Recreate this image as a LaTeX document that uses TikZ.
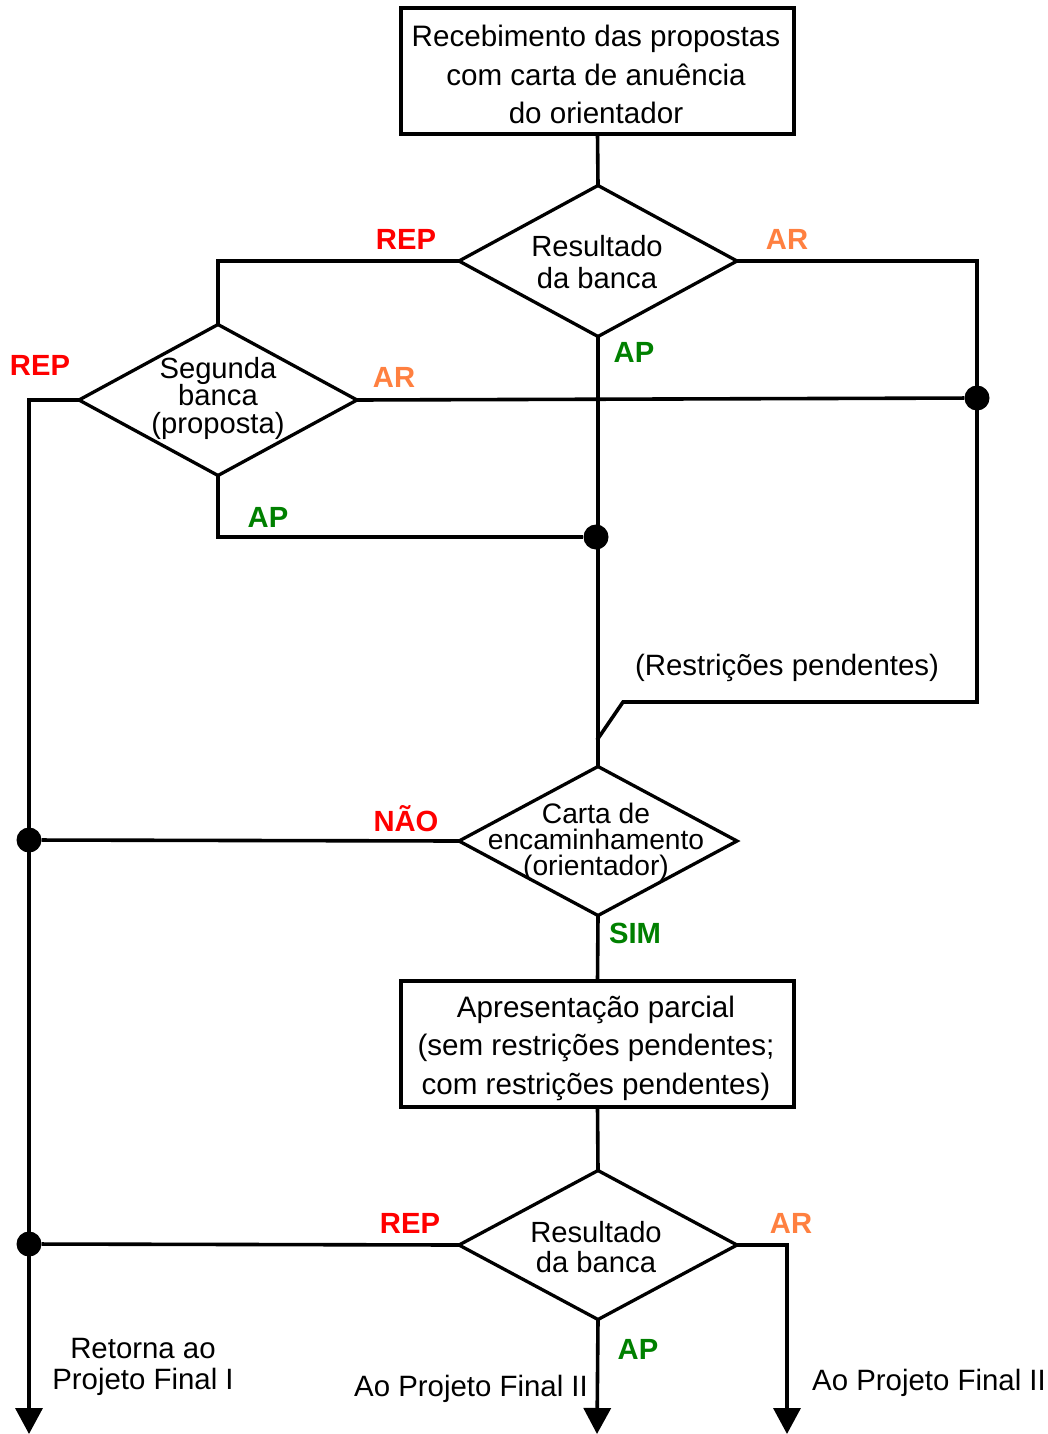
\documentclass[tikz,border=0pt]{standalone}
\usepackage{fontspec}
\setmainfont{Liberation Sans}
\usetikzlibrary{arrows.meta, positioning, shapes.geometric}
\definecolor{flRep}{HTML}{FF0000}
\definecolor{flAr}{HTML}{FF8040}
\definecolor{flAp}{HTML}{008000}

\begin{document}
\begin{tikzpicture}[
        x=1pt, y=-1pt,
        >={Triangle[length=26pt, width=27pt]},
        % boxes and decision diamonds share the same outline weight
        box/.style  ={draw, line width=3.3pt, outer sep=0pt, minimum width=393pt,
                minimum height=126pt, align=center, inner sep=0pt,
                font=\fontsize{29.6}{38.5}\selectfont},
        dec/.style  ={draw, diamond, line width=3.3pt, outer sep=0pt, inner sep=0pt,
                minimum width=278pt, minimum height=151pt},
        dtxt/.style ={align=center, inner sep=0pt, font=\fontsize{29.2}{30}\selectfont},
        note/.style ={align=center, inner sep=0pt, font=\fontsize{29.4}{31}\selectfont},
        lab/.style  ={inner sep=0pt, font=\fontsize{29.2}{30}\selectfont\bfseries},
        rep/.style  ={lab, text=flRep},
        ar/.style   ={lab, text=flAr},
        ap/.style   ={lab, text=flAp},
        dot/.style  ={circle, fill, inner sep=0pt, minimum size=25pt},
        line/.style ={line width=3.6pt}
    ]
    \useasboundingbox (0,0) rectangle (1047,1434);

    % boxes and decisions
    \node[box] (recv)  at (597.5,71)   {};
    \node[box, draw=none] (recvt) at (596,74.5) {Recebimento das propostas\\com carta de anuência\\do orientador};
    \node[dec] (res1)  at (598,261)    {};
    \node[dtxt, font=\fontsize{29.2}{32}\selectfont] (res1t) at (597,262) {Resultado\\da banca};
    \node[dec] (seg)   at (218,400)    {};
    \node[dtxt, font=\fontsize{29.2}{27.5}\selectfont] (segt) at (218,398) {Segunda\\banca\\(proposta)};
    \node[dec, minimum height=149pt] (carta) at (598,841) {};
    \node[dtxt, font=\fontsize{28.2}{26}\selectfont] (cartat) at (596,842) {Carta de\\encaminhamento\\(orientador)};
    \node[box] (apres) at (597.5,1044) {};
    \node[box, draw=none] (aprest) at (596,1048) {Apresentação parcial\\(sem restrições pendentes;\\com restrições pendentes)};
    \node[dec, minimum height=149pt] (res2) at (598,1245) {};
    \node[dtxt] (res2t) at (596,1247) {Resultado\\da banca};

    % junction dots
    \node[dot] (j1) at (977,398)  {};
    \node[dot] (j2) at (596,537)  {};
    \node[dot] (j3) at (29,840)   {};
    \node[dot] (j4) at (29,1244)  {};

    \coordinate (c5) at (977,702);
    \coordinate (c6) at (623,702);
    \coordinate (c7) at (597,740);
    \coordinate (e1) at (29,1434);
    \coordinate (e2) at (597,1434);
    \coordinate (e3) at (787,1434);

    % branch labels
    \node[rep] (rep1) at (406,239)  {REP};
    \node[ar]  (ar1)  at (787,239)  {AR};
    \node[ap]  (ap1)  at (634,352)  {AP};
    \node[rep] (rep2) at (40,365)   {REP};
    \node[ar]  (ar2)  at (394,377)  {AR};
    \node[ap]  (ap2)  at (268,517)  {AP};
    \node[rep] (nao)  at (406,819)  {NÃO};
    \node[ap]  (sim)  at (635,933)  {SIM};
    \node[rep] (rep3) at (410,1223) {REP};
    \node[ar]  (ar3)  at (791,1223) {AR};
    \node[ap]  (ap3)  at (638,1349) {AP};

    \node[note] (restr) at (787,668)  {(Restrições pendentes)};
    \node[note] (ret)   at (143,1367) {Retorna ao\\Projeto Final I};
    \node[note] (ao1)   at (471,1389) {Ao Projeto Final II};
    \node[note] (ao2)   at (929,1383) {Ao Projeto Final II};

    % connectors
    \draw[line] (recv.south) -- (res1.north);
    \draw[line] (res1.west) -| (seg.north);
    \draw[line] (res1.east) -| (c5) -- (c6) -- (c7);
    \draw[line] (seg.east) -- (j1);
    \draw[line, ->] (seg.west) -| (e1);
    \draw[line] (seg.south) |- (j2);
    \draw[line] (res1.south) -- (carta.north);
    \draw[line] (carta.west) -- (j3);
    \draw[line] (carta.south) -- (apres.north);
    \draw[line] (apres.south) -- (res2.north);
    \draw[line] (res2.west) -- (j4);
    \draw[line, ->] (res2.south) -- (e2);
    \draw[line, ->] (res2.east) -| (e3);
\end{tikzpicture}
\end{document}
